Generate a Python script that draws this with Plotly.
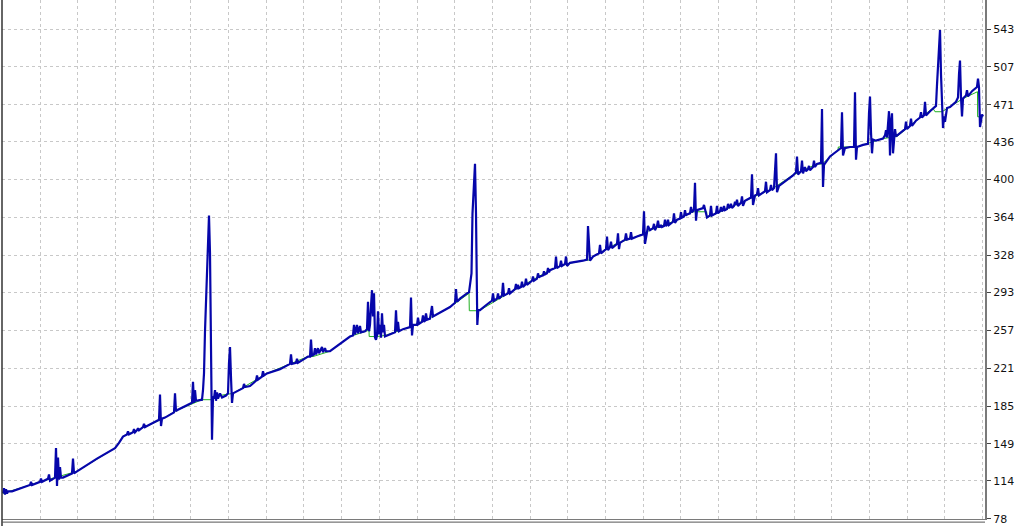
import plotly.graph_objects as go

# ---- data -------------------------------------------------------------
y_tick_labels = [78, 114, 149, 185, 221, 257, 293, 328, 364, 400, 436, 471, 507, 543]

eq_x = [3, 4, 5, 6, 7, 8, 12, 30, 31, 32, 40, 41, 42, 48, 49, 50, 55, 56, 57, 58,
        59, 60, 61, 63, 72, 73, 74, 77, 97, 115, 119, 123, 127, 128, 129, 133, 134, 135, 137, 138,
        139, 143, 144, 145, 147, 159, 160, 161, 162, 165, 174, 175, 176, 177, 192, 193, 194, 195, 196, 200,
        202, 203, 204, 205, 207, 209, 210, 211, 212, 213, 214, 215, 216, 217, 218, 220, 222, 226, 228, 229,
        230, 231, 232, 233, 240, 243, 244, 245, 250, 256, 257, 258, 262, 263, 264, 267, 280, 290, 291, 292,
        296, 297, 298, 308, 310, 311, 312, 314, 315, 316, 318, 319, 322, 323, 325, 326, 330, 340, 350, 353,
        354, 355, 357, 358, 360, 361, 365, 367, 368, 369, 370, 371, 372, 373, 374, 375, 376, 377, 378, 379,
        380, 381, 382, 383, 384, 385, 390, 395, 396, 397, 398, 399, 403, 410, 411, 412, 413, 417, 418, 419,
        422, 423, 424, 425, 426, 427, 430, 431, 432, 433, 437, 450, 455, 456, 457, 460, 467, 469, 470, 471.5,
        472.5, 474, 475, 476, 476.7, 477.3, 478.3, 480, 485, 492, 493, 494, 497, 498, 499, 500, 502, 503, 504, 508,
        509, 510, 515, 516, 517, 518, 519, 521, 522, 523, 525, 526, 527, 532, 533, 534, 537, 538, 539, 540,
        543, 544, 545, 547, 548, 549, 550, 555, 556, 557, 560, 561, 562, 565, 566, 567, 570, 583, 587, 588,
        589, 590, 593, 599, 600, 601, 606, 607, 608, 610, 611, 612, 617, 618, 619, 620, 625, 626, 627, 630,
        631, 632, 637, 643, 644, 645, 647, 648, 650, 653, 654, 655, 657, 658, 659, 660, 661, 662, 664, 665,
        666, 667, 668, 669, 673, 674, 675, 677, 680, 681, 682, 684, 685, 686, 687, 690, 691, 692, 693, 694,
        695, 696, 697, 700, 703, 704, 705, 706, 707, 710, 711, 712, 716, 717, 718, 720, 721, 722, 723, 724,
        725, 727, 728, 729, 730, 731, 732, 734, 735, 736, 737, 738, 741, 742, 743, 745, 751, 752, 753, 755,
        757, 758, 759, 765, 766, 767, 770, 771, 772, 774, 776, 777, 779, 793, 796, 797, 798, 801, 802, 803,
        805, 806, 808, 809, 810, 813, 814, 815, 817, 821, 822, 823, 824, 830, 838, 841, 842, 843, 845, 850,
        854, 855, 856, 857, 863, 868, 869, 870, 871, 872, 873, 876, 883, 885, 886, 887, 889, 890, 891, 892,
        893, 895, 896, 900, 905, 906, 907, 910, 911, 912, 916, 920, 921, 922, 924, 925, 926, 930, 933, 936,
        937, 938, 939, 940, 941, 942, 943, 944, 945, 947, 950, 956, 958, 959, 960, 961, 962, 963, 966, 967,
        968, 972, 975, 977, 978, 979, 980, 981, 982, 983]

eq_y = [102, 107, 101, 106, 102, 104, 104, 110, 113, 110, 113, 116, 113, 116, 120, 114, 117, 145, 109, 136,
        115, 127, 117, 117, 121, 135, 121, 123, 135, 145, 150, 156, 158, 161, 158, 160, 163, 160, 162, 164,
        162, 165, 168, 165, 166, 172, 196, 166, 173, 174, 179, 197, 180, 181, 188, 208, 188, 200, 190, 191,
        191, 200, 216, 256, 311, 366, 330, 238, 153, 194, 192, 200, 190, 198, 192, 197, 193, 195, 197, 226,
        241, 212, 188, 197, 200, 202, 206, 203, 204, 209, 214, 210, 213, 218, 214, 216, 220, 225, 234, 225,
        226, 230, 226, 232, 232, 248, 233, 234, 240, 234, 240, 235, 241, 236, 240, 237, 237, 244, 251, 252,
        262, 253, 262, 254, 261, 255, 256, 258, 284, 256, 262, 280, 295, 270, 292, 250, 248, 252, 275, 253,
        262, 250, 273, 255, 262, 251, 253, 255, 276, 256, 265, 256, 258, 260, 288, 252, 262, 262, 269, 263,
        265, 271, 265, 266, 273, 267, 268, 275, 280, 270, 272, 279, 283, 296, 284, 287, 292, 293, 300, 311,
        368, 393, 415, 368, 276, 262, 276, 276, 280, 285, 292, 285, 287, 292, 287, 288, 290, 302, 290, 292,
        297, 292, 296, 301, 296, 300, 297, 298, 303, 298, 300, 306, 300, 304, 308, 304, 306, 311, 307, 308,
        309, 313, 310, 311, 316, 312, 314, 316, 327, 316, 318, 323, 318, 320, 327, 318, 321, 323, 324, 356,
        340, 323, 327, 330, 338, 330, 334, 346, 333, 336, 341, 335, 339, 349, 334, 340, 343, 349, 343, 344,
        350, 344, 346, 348, 370, 339, 350, 356, 352, 354, 358, 352, 356, 361, 355, 355, 357, 355, 356, 362,
        356, 357, 362, 357, 360, 368, 359, 362, 363, 369, 364, 365, 371, 366, 367, 368, 374, 369, 370, 372,
        397, 361, 371, 372, 373, 376, 372, 370, 364, 366, 375, 366, 368, 375, 368, 370, 374, 370, 371, 375,
        371, 372, 377, 373, 374, 377, 373, 375, 379, 376, 381, 375, 378, 384, 375, 380, 383, 405, 376, 385,
        386, 392, 385, 389, 398, 388, 390, 395, 390, 392, 425, 388, 394, 404, 407, 422, 405, 408, 418, 406,
        412, 408, 410, 413, 409, 412, 418, 412, 415, 416, 467, 393, 414, 422, 428, 430, 464, 423, 430, 431,
        431, 483, 419, 431, 433, 434, 463, 479, 445, 425, 438, 437, 439, 442, 447, 440, 465, 423, 455, 463,
        425, 448, 441, 444, 448, 455, 448, 451, 458, 451, 456, 459, 464, 459, 461, 474, 461, 465, 468, 470,
        490, 510, 530, 542, 500, 470, 449, 460, 455, 468, 469, 474, 478, 500, 513, 478, 460, 477, 480, 485,
        479, 484, 487, 488, 496, 488, 450, 455, 462, 460]

bal_x = [3, 40, 77, 97, 115, 123, 127, 147, 163, 177, 202, 211, 213, 233, 267, 290, 308, 313, 330,
         350, 365, 369, 369.2, 377, 385, 403, 410, 437, 450, 469, 469.3, 476, 480, 503, 550, 567,
         585, 590, 593, 617, 637, 650, 677, 693, 706.7, 706.8, 743, 757, 773, 793, 816.7, 822,
         830, 838, 838.3, 857, 863, 883, 897, 917, 933, 935, 942, 950, 957, 963, 977.5, 977.6, 983]
bal_y = [102, 113, 123, 135, 145, 156, 158, 166, 173, 181, 191, 191, 194, 197, 216, 225, 232, 232,
         237, 251, 256, 257, 251, 251, 252, 258, 260, 272, 279, 292, 275.5, 275.5, 276, 289, 314,
         320, 323.6, 323.6, 327, 339.5, 346, 352, 361.6, 369.5, 369.5, 363.8, 379, 385, 391.7,
         404.4, 414.8, 414.8, 421.7, 428, 431, 431, 433, 439, 441, 456.6, 467.7, 464.5, 464.5,
         469.2, 474, 477, 483.5, 459.7, 459.7]

# ---- figure -----------------------------------------------------------
grid_col = "#c8c8c8"
axis_col = "#7a7a7a"

fig = go.Figure()
fig.add_trace(go.Scatter(x=bal_x, y=bal_y, mode="lines",
                         line=dict(color="#22b022", width=1), name="Balance",
                         hoverinfo="skip"))
fig.add_trace(go.Scatter(x=eq_x, y=eq_y, mode="lines",
                         line=dict(color="#0606aa", width=2.2), name="Equity"))

fig.update_layout(
    width=1024, height=526,
    margin=dict(l=2, r=39, t=0, b=7, pad=0),
    paper_bgcolor="white", plot_bgcolor="white",
    showlegend=False,
    font=dict(family="DejaVu Sans", size=11, color="#111111"),
    xaxis=dict(range=[2, 985], showticklabels=False, ticks="",
               tick0=40, dtick=37.7,
               showgrid=True, gridcolor=grid_col, griddash="3px,3px", gridwidth=1,
               zeroline=False, showline=True, linecolor=axis_col, linewidth=1,
               mirror=False),
    yaxis=dict(range=[77.7, 570.6], side="right",
               tickmode="array", tickvals=y_tick_labels,
               ticktext=[str(v) for v in y_tick_labels],
               ticks="outside", ticklen=4, tickcolor="#444444", tickwidth=1,
               showgrid=True, gridcolor=grid_col, griddash="3px,3px", gridwidth=1,
               zeroline=False, showline=True, linecolor=axis_col, linewidth=2,
               tickfont=dict(family="DejaVu Sans", size=11, color="#111111")),
)

# left border and bottom panel edge (MT4 style frame)
fig.add_shape(type="line", xref="paper", yref="paper", x0=0, x1=0, y0=-0.02, y1=1,
              line=dict(color="#333333", width=1.5))
fig.add_shape(type="line", xref="paper", yref="paper", x0=0, x1=1, y0=-0.006, y1=-0.006,
              line=dict(color="#555555", width=1))

fig.write_html(
    "out.html",
    config={"displayModeBar": False},
    post_script="document.body.style.margin='0';document.body.style.padding='0';"
                "document.body.style.overflow='hidden';",
)
